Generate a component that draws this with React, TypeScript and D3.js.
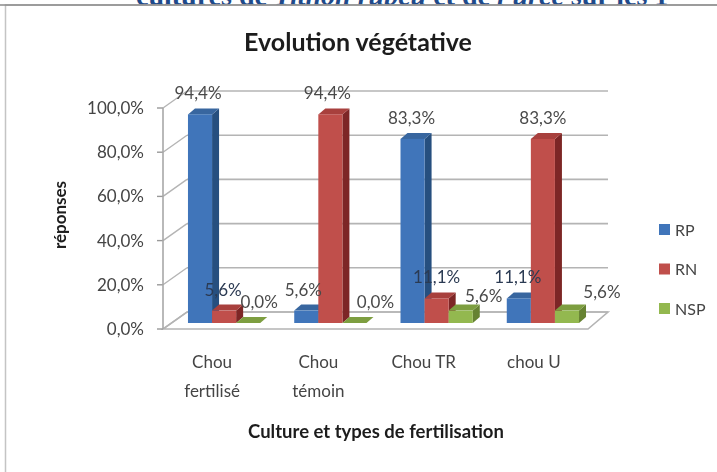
import React, { useEffect, useRef } from 'react';
import * as d3 from 'd3';

const categories = ['Chou fertilisé', 'Chou témoin', 'Chou TR', 'chou U'];
const seriesNames = ['RP', 'RN', 'NSP'];
const rpValues = [94.4, 5.6, 83.3, 11.1];
const rnValues = [5.6, 94.4, 11.1, 83.3];
const nspValues = [0, 0, 5.6, 5.6];
const yTicks = [0, 20, 40, 60, 80, 100];

const frontColors = ['#3f75ba', '#c04f4c', '#93b84f'];
const sideColors = ['#28507f', '#7d2826', '#668232'];
const topColors = ['#37669f', '#a83f3c', '#7d9e40'];

const fmt = (v: number) => v.toFixed(1).replace('.', ',') + '%';

export default function App() {
  const ref = useRef<SVGSVGElement | null>(null);

  useEffect(() => {
    const width = 717, height = 472;
    const svg = d3.select(ref.current);
    svg.selectAll('*').remove();

    const font = 'Lato, sans-serif';
    const wallLeft = 163, wallRight = 588;
    const depthX = 24, depthY = 17; // wall depth
    const barDX = 7, barDY = 6; // bar depth

    const defs = svg.append('defs');
    defs.append('filter').attr('id', 'soft').append('feGaussianBlur').attr('stdDeviation', 0.6);
    defs.append('filter').attr('id', 'softer').append('feGaussianBlur').attr('stdDeviation', 0.5);

    svg.append('rect').attr('width', width).attr('height', height).attr('fill', '#fff');

    // heading of the page behind, cut by the top of the frame
    const head = svg.append('text').attr('x', 136).attr('y', 5)
      .attr('font-family', '"Liberation Serif", serif').attr('font-weight', 'bold')
      .attr('font-size', 28).attr('fill', '#1f4a8a');
    head.append('tspan').text('cultures de ');
    head.append('tspan').attr('font-style', 'italic').text('Tithon rubeu');
    head.append('tspan').text(' et de ');
    head.append('tspan').attr('font-style', 'italic').text("l'urée");
    head.append('tspan').text(' sur les 1');

    svg.append('rect').attr('x', 5.5).attr('y', 5).attr('width', 730).attr('height', 490)
      .attr('fill', '#fff').attr('stroke', '#c4c4c4').attr('stroke-width', 1.5);
    svg.append('line').attr('x1', 0).attr('x2', width).attr('y1', 5).attr('y2', 5)
      .attr('stroke', '#8a8a8a').attr('stroke-width', 1.5);

    const chart = svg.append('g').attr('filter', 'url(#soft)');
    const labels = svg.append('g').attr('filter', 'url(#softer)');

    const x = d3.scaleBand().domain(categories).range([wallLeft, 604]).paddingInner(0.32).paddingOuter(0.235);
    const sub = d3.scaleBand().domain(seriesNames).range([0, x.bandwidth()]);
    const y = d3.scaleLinear().domain([0, 100]).range([329, 108]);
    const barBase = 323;
    const barH = (v: number) => y(0) - y(v);

    // floor
    const floor = d3.path();
    floor.moveTo(wallLeft, y(0));
    floor.lineTo(wallRight, y(0));
    floor.lineTo(wallRight + 20, y(0) - depthY);
    floor.lineTo(wallLeft + depthX, y(0) - depthY);
    floor.closePath();
    chart.append('path').attr('d', floor.toString()).attr('fill', '#fff').attr('stroke', '#b4b4b4').attr('stroke-width', 1.6);

    // gridlines on the walls, tick marks
    yTicks.forEach(t => {
      chart.append('line').attr('x1', wallLeft + depthX).attr('x2', wallRight + 20)
        .attr('y1', y(t) - depthY).attr('y2', y(t) - depthY)
        .attr('stroke', '#b4b4b4').attr('stroke-width', 1.6);
      chart.append('line').attr('x1', wallLeft).attr('x2', wallLeft + depthX)
        .attr('y1', y(t)).attr('y2', y(t) - depthY)
        .attr('stroke', '#b4b4b4').attr('stroke-width', 1.4);
      chart.append('line').attr('x1', wallLeft - 6).attr('x2', wallLeft)
        .attr('y1', y(t)).attr('y2', y(t))
        .attr('stroke', '#999').attr('stroke-width', 1.4);
      labels.append('text').attr('x', 144).attr('y', y(t)).attr('dy', '0.35em')
        .attr('text-anchor', 'end').attr('font-family', font).attr('font-size', 17)
        .attr('fill', '#444').text(fmt(t));
    });
    chart.append('line').attr('x1', wallLeft).attr('x2', wallLeft).attr('y1', y(100)).attr('y2', y(0))
      .attr('stroke', '#a8a8a8').attr('stroke-width', 1.6);

    // 3d bars
    const allValues = [rpValues, rnValues, nspValues];
    categories.forEach((cat, ci) => {
      seriesNames.forEach((name, si) => {
        const v = allValues[si][ci];
        const x0 = (x(cat) as number) + (sub(name) as number);
        const w = sub.bandwidth();
        const top = barBase - barH(v);
        const poly = (pts: number[][], fill: string) =>
          chart.append('path').attr('d', d3.line()(pts as [number, number][]) + 'Z').attr('fill', fill);
        poly([[x0 + w, barBase], [x0 + w + barDX, barBase - barDY], [x0 + w + barDX, top - barDY], [x0 + w, top]], sideColors[si]);
        poly([[x0, top], [x0 + barDX, top - barDY], [x0 + w + barDX, top - barDY], [x0 + w, top]], topColors[si]);
        if (v > 0) {
          chart.append('rect').attr('x', x0).attr('y', top).attr('width', w).attr('height', barH(v)).attr('fill', frontColors[si]);
        }
      });
    });

    // data labels were moved by hand in the original
    const labelNudge = [
      [[-2, -21], [-3, -21], [-1, -21], [-1, -21]],
      [[-1, -21], [-3, -21], [0, -21], [0, -21]],
      [[11, -21], [21, -21], [23, -15], [35, -19]],
    ];
    categories.forEach((cat, ci) => {
      seriesNames.forEach((name, si) => {
        const v = allValues[si][ci];
        const cx = (x(cat) as number) + (sub(name) as number) + sub.bandwidth() / 2;
        const top = barBase - barH(v);
        const [dx, dy] = labelNudge[si][ci];
        labels.append('text').attr('x', cx + dx).attr('y', top + dy).attr('dy', '0.35em')
          .attr('text-anchor', 'middle').attr('font-family', font).attr('font-size', 17)
          .attr('fill', v === 11.1 || (v === 5.6 && si === 1) ? '#2c3a52' : '#4a4a4a').text(fmt(v));
      });
    });

    // category labels, wrapped on two lines like the original
    const catNudge = [-12, -12, -13, -9];
    categories.forEach((cat, ci) => {
      const cx = (x(cat) as number) + x.bandwidth() / 2 + catNudge[ci];
      const words = cat === 'Chou TR' || cat === 'chou U' ? [cat] : cat.split(' ');
      words.forEach((line, i) => {
        labels.append('text').attr('x', cx).attr('y', 362 + i * 29).attr('dy', '0.35em')
          .attr('text-anchor', 'middle').attr('font-family', font).attr('font-size', 17)
          .attr('fill', '#444').text(line);
      });
    });

    // titles
    labels.append('text').attr('x', 358).attr('y', 42).attr('dy', '0.35em').attr('text-anchor', 'middle')
      .attr('font-family', font).attr('font-weight', 700).attr('font-size', 25).attr('fill', '#1c1c1c')
      .text('Evolution végétative');
    labels.append('text').attr('x', 376).attr('y', 432).attr('dy', '0.35em').attr('text-anchor', 'middle')
      .attr('font-family', font).attr('font-weight', 700).attr('font-size', 18.5).attr('fill', '#1c1c1c')
      .text('Culture et types de fertilisation');
    labels.append('text').attr('transform', 'translate(60,215) rotate(-90)').attr('dy', '0.35em')
      .attr('text-anchor', 'middle').attr('font-family', font).attr('font-weight', 700)
      .attr('font-size', 17).attr('fill', '#1c1c1c').text('réponses');

    // legend
    const legendY = d3.scalePoint().domain(seriesNames).range([230, 309]);
    seriesNames.forEach((name, i) => {
      chart.append('rect').attr('x', 659).attr('y', (legendY(name) as number) - 6)
        .attr('width', 11).attr('height', 11).attr('fill', frontColors[i]);
      labels.append('text').attr('x', 675).attr('y', legendY(name) as number).attr('dy', '0.35em')
        .attr('font-family', font).attr('font-size', 16).attr('fill', '#444').text(name);
    });
  }, []);

  return <svg ref={ref} width={717} height={472} style={{ position: 'absolute', left: 0, top: 0 }} />;
}
